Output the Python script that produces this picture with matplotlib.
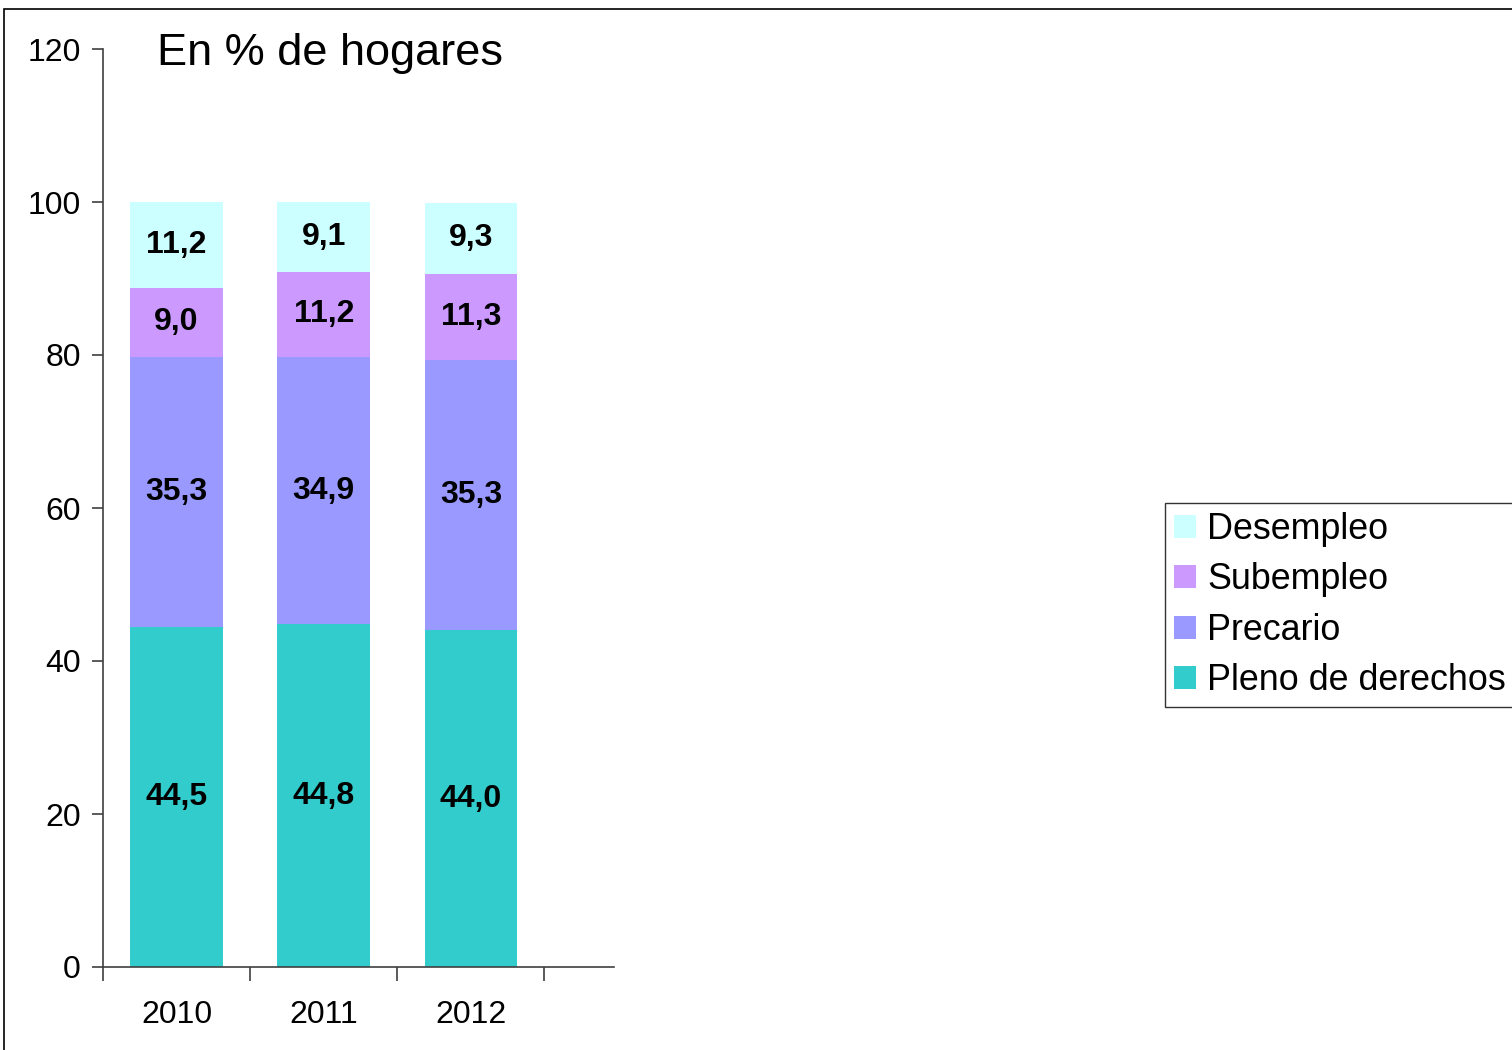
import numpy as np
import matplotlib
matplotlib.use("Agg")
import matplotlib.pyplot as plt
from matplotlib.patches import Rectangle

plt.rcParams["font.family"] = ["Liberation Sans", "DejaVu Sans"]

# -----------------------------------------------------------------------------
# Datos
# -----------------------------------------------------------------------------
anios = ["2010", "2011", "2012"]
series = ["Pleno de derechos", "Precario", "Subempleo", "Desempleo"]
pleno = [44.5, 44.8, 44.0]
precario = [35.3, 34.9, 35.3]
subempleo = [9.0, 11.2, 11.3]
desempleo = [11.2, 9.1, 9.3]
colores = ["#33CCCC", "#9999FF", "#CC99FF", "#CCFFFF"]

valores = [pleno, precario, subempleo, desempleo]

# -----------------------------------------------------------------------------
# Figura
# -----------------------------------------------------------------------------
W, H = 1512, 1050
fig = plt.figure(figsize=(W / 100, H / 100), dpi=100)
ax = fig.add_axes([103 / W, (H - 967) / H, (614 - 103) / W, (967 - 49) / H])

x = np.arange(len(anios))
base = np.zeros(len(anios))
barras = []
for serie, vals, color in zip(series, valores, colores):
    vals = np.array(vals)
    b = ax.bar(x, vals, 0.63, bottom=base, color=color, label=serie, zorder=2)
    barras.append(b)
    for xi, v, y0 in zip(x, vals, base):
        ax.text(xi, y0 + v / 2, f"{v:.1f}".replace(".", ","),
                ha="center", va="center", fontsize=23, fontweight="bold")
    base = base + vals

ax.set_xlim(-0.5, (614 - 177) / 147)
ax.set_ylim(0, 120)
ax.set_yticks(np.arange(0, 121, 20))
ax.set_xticks(x)
ax.set_xticklabels(anios)
ax.set_xticks([-0.5, 0.5, 1.5, 2.5], minor=True)

ax.tick_params(axis="y", labelsize=23, length=8, width=1.2, color="#404040", pad=8)
ax.tick_params(axis="x", which="major", labelsize=23, length=0, pad=24)
ax.tick_params(axis="x", which="minor", length=10, width=1.2, color="#404040")

for lado in ["top", "right"]:
    ax.spines[lado].set_visible(False)
for lado in ["left", "bottom"]:
    ax.spines[lado].set_color("#404040")
    ax.spines[lado].set_linewidth(1.2)

ax.text(157 / W, (H - 54) / H, "En % de hogares", transform=fig.transFigure,
        fontsize=32.5, ha="left", va="center")

# leyenda en orden inverso (Desempleo arriba)
leg = fig.legend(barras[::-1], series[::-1], loc="upper left",
                 bbox_to_anchor=(1165 / W, (H - 503) / H),
                 fontsize=25.8, frameon=True, fancybox=False, shadow=False,
                 handlelength=0.62, handleheight=0.62, handletextpad=0.3,
                 borderpad=0.25, labelspacing=0.43, borderaxespad=0)
leg.get_frame().set_edgecolor("black")
leg.get_frame().set_linewidth(1.0)

# borde de la figura
fig.patches.append(Rectangle((4 / W, -0.1), 1.2, (H - 9) / H + 0.1,
                             transform=fig.transFigure, fill=False,
                             edgecolor="black", linewidth=1.2))

fig.savefig("out.png", dpi=100)
